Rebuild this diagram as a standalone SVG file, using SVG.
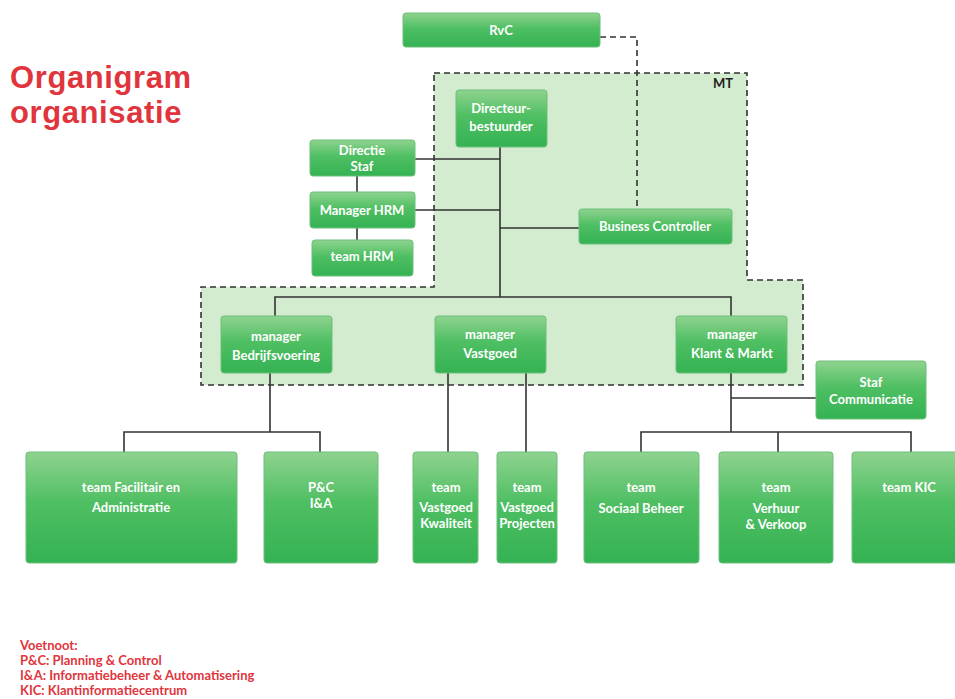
<svg xmlns="http://www.w3.org/2000/svg" width="955" height="699" viewBox="0 0 955 699">
<defs>
<linearGradient id="g" x1="0" y1="0" x2="0" y2="1">
<stop offset="0" stop-color="#8fd38f"/>
<stop offset="0.45" stop-color="#4fbf63"/>
<stop offset="1" stop-color="#34b253"/>
</linearGradient>
<style>
.box{fill:url(#g);stroke:#6cc07a;stroke-width:1}
.t{font-family:"Lato","Open Sans","Liberation Sans",sans-serif;font-weight:bold;font-size:13px;fill:#fff;text-anchor:middle}
.ln{stroke:#333;stroke-width:1.6;fill:none}
.dash{stroke:#333;stroke-width:1.6;fill:none;stroke-dasharray:6 4}
.area{stroke:#333;stroke-width:1.6;fill:#d3ebcf;stroke-dasharray:6 4}
.red{font-family:"Lato","Open Sans","Liberation Sans",sans-serif;font-weight:bold;fill:#e0353d}
.ttl{font-family:"Liberation Sans","Arial",sans-serif;font-weight:bold;fill:#e0353d;font-size:31px;letter-spacing:0.6px}
</style>
</defs>
<rect width="955" height="699" fill="#fff"/>
<g id="mt-area">
<path d="M434,73 H747 V280 H803 V385 H201 V287 H434 Z" class="area"/>
<text x="733" y="88" class="t" style="fill:#222;text-anchor:end">MT</text>
</g>
<g id="title">
<text x="10" y="88" class="ttl">Organigram</text>
<text x="10" y="123" class="ttl">organisatie</text>
</g>
<g id="connectors">
<path class="dash" d="M600,37 H637 V209"/>
<path class="ln" d="M500,147 V297"/>
<path class="ln" d="M415,159 H500"/>
<path class="ln" d="M415,210 H500"/>
<path class="ln" d="M500,228 H579"/>
<path class="ln" d="M357,176 V192 M357,228 V240"/>
<path class="ln" d="M275,316 V297 H731 V316"/>
<path class="ln" d="M270,373 V432 M124,452 V432 H320 V452"/>
<path class="ln" d="M448,373 V452 M526,373 V452"/>
<path class="ln" d="M731,373 V432 M731,398 H816 M641,452 V432 H911 V452 M778,432 V452"/>
</g>
<g id="rvc"><rect class="box" x="403" y="13" width="197" height="34" rx="3"/><text class="t" x="501" y="35">RvC</text></g>
<g id="directeur"><rect class="box" x="456" y="90" width="91" height="57" rx="3"/><text class="t" x="501" y="113">Directeur-</text><text class="t" x="501" y="131">bestuurder</text></g>
<g id="directie-staf"><rect class="box" x="310" y="140" width="105" height="36" rx="3"/><text class="t" x="362" y="155">Directie</text><text class="t" x="362" y="171">Staf</text></g>
<g id="manager-hrm"><rect class="box" x="310" y="192" width="105" height="36" rx="3"/><text class="t" x="362" y="215">Manager HRM</text></g>
<g id="team-hrm"><rect class="box" x="312" y="240" width="101" height="36" rx="3"/><text class="t" x="362" y="261">team HRM</text></g>
<g id="business-controller"><rect class="box" x="579" y="209" width="153" height="35" rx="3"/><text class="t" x="655" y="231">Business Controller</text></g>
<g id="mgr-bedrijfsvoering"><rect class="box" x="221" y="316" width="111" height="57" rx="3"/><text class="t" x="276" y="341">manager</text><text class="t" x="276" y="360">Bedrijfsvoering</text></g>
<g id="mgr-vastgoed"><rect class="box" x="435" y="316" width="111" height="57" rx="3"/><text class="t" x="490" y="339">manager</text><text class="t" x="490" y="358">Vastgoed</text></g>
<g id="mgr-klant"><rect class="box" x="676" y="316" width="111" height="57" rx="3"/><text class="t" x="732" y="339">manager</text><text class="t" x="732" y="358">Klant &amp; Markt</text></g>
<g id="staf-communicatie"><rect class="box" x="816" y="361" width="110" height="58" rx="3"/><text class="t" x="871" y="387">Staf</text><text class="t" x="871" y="404">Communicatie</text></g>
<g id="team-facilitair"><rect class="box" x="26" y="452" width="211" height="111" rx="3"/><text class="t" x="131" y="492">team Facilitair en</text><text class="t" x="131" y="512">Administratie</text></g>
<g id="pc-ia"><rect class="box" x="264" y="452" width="114" height="111" rx="3"/><text class="t" x="321" y="492">P&amp;C</text><text class="t" x="321" y="508">I&amp;A</text></g>
<g id="team-vastgoed-kwaliteit"><rect class="box" x="413" y="452" width="65" height="111" rx="3"/><text class="t" x="446" y="492">team</text><text class="t" x="446" y="512">Vastgoed</text><text class="t" x="446" y="528">Kwaliteit</text></g>
<g id="team-vastgoed-projecten"><rect class="box" x="497" y="452" width="60" height="111" rx="3"/><text class="t" x="527" y="492">team</text><text class="t" x="527" y="512">Vastgoed</text><text class="t" x="527" y="528">Projecten</text></g>
<g id="team-sociaal-beheer"><rect class="box" x="584" y="452" width="115" height="111" rx="3"/><text class="t" x="641" y="492">team</text><text class="t" x="641" y="513">Sociaal Beheer</text></g>
<g id="team-verhuur"><rect class="box" x="719" y="452" width="114" height="111" rx="3"/><text class="t" x="776" y="492">team</text><text class="t" x="776" y="513">Verhuur</text><text class="t" x="776" y="529">&amp; Verkoop</text></g>
<g id="team-kic"><rect class="box" x="852" y="452" width="110" height="111" rx="3"/><text class="t" x="909" y="492">team KIC</text></g>
<g id="footnote">
<text x="20" y="650" class="red" font-size="13">Voetnoot:</text>
<text x="20" y="665" class="red" font-size="13">P&amp;C: Planning &amp; Control</text>
<text x="20" y="680" class="red" font-size="13">I&amp;A: Informatiebeheer &amp; Automatisering</text>
<text x="20" y="695" class="red" font-size="13">KIC: Klantinformatiecentrum</text>
</g>
</svg>
